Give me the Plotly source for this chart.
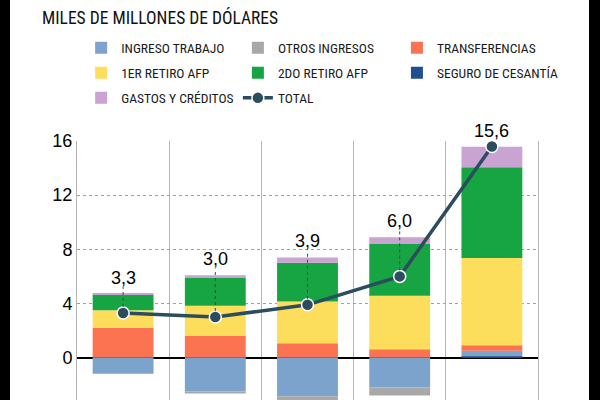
import plotly.graph_objects as go

# datos (miles de millones de dolares)
periodos = ["P1", "P2", "P3", "P4", "P5"]
seguro_cesantia = [0, 0, 0, 0, 0.1]
ingreso_trabajo = [-1.2, -2.5, -2.85, -2.2, 0.4]
otros_ingresos = [0, -0.15, -0.4, -0.6, 0]
transferencias = [2.2, 1.6, 1.07, 0.62, 0.42]
retiro1 = [1.3, 2.23, 3.08, 3.95, 6.44]
retiro2 = [1.17, 2.05, 2.85, 3.83, 6.71]
gastos_creditos = [0.05, 0.2, 0.4, 0.5, 1.5]
total = [3.3, 3.0, 3.9, 6.0, 15.6]
total_txt = ["3,3", "3,0", "3,9", "6,0", "15,6"]

fuente = "Roboto Condensed, Roboto, sans-serif"

fig = go.Figure()

# (nombre, valores, color, legend, rank)
series = [
    ("SEGURO DE CESANTÍA", seguro_cesantia, "#1f4f8f", "legend3", 2),
    ("INGRESO TRABAJO", ingreso_trabajo, "#7ba3cc", "legend", 1),
    ("OTROS INGRESOS", otros_ingresos, "#a8a8a8", "legend2", 1),
    ("TRANSFERENCIAS", transferencias, "#fb7350", "legend3", 1),
    ("1ER RETIRO AFP", retiro1, "#fddd5c", "legend", 2),
    ("2DO RETIRO AFP", retiro2, "#16a542", "legend2", 2),
    ("GASTOS Y CRÉDITOS", gastos_creditos, "#c9a3d1", "legend", 3),
]
for nombre, vals, color, leg, rank in series:
    fig.add_trace(go.Bar(x=periodos, y=vals, name=nombre, marker_color=color,
                         marker_line_width=0, width=0.66, legend=leg,
                         legendrank=rank, legendgroup=nombre))

fig.add_trace(go.Scatter(x=periodos, y=total, name="TOTAL", mode="lines+markers",
                         line=dict(color="#2c4d5d", width=3.5),
                         marker=dict(size=12, color="#2c4d5d", line=dict(color="white", width=1.5)),
                         legend="legend2", legendrank=3, legendgroup="TOTAL", cliponaxis=False))

# etiquetas y lineas punteadas
for i, p in enumerate(periodos):
    tope = sum(max(s[1][i], 0) for s in series)
    fig.add_shape(type="line", x0=p, x1=p, y0=total[i], y1=tope + 0.5, xref="x", yref="y",
                  line=dict(color="#444444", width=1, dash="dot"), layer="above")
    fig.add_annotation(x=p, y=tope, text=total_txt[i], showarrow=False, yanchor="bottom",
                       yshift=4, font=dict(family="Liberation Sans, sans-serif", size=18, color="black"))

# fondo blanco con bordes negros
fig.add_shape(type="rect", xref="paper", yref="paper", x0=-67 / 461, x1=512 / 461, y0=-0.2, y1=2,
              fillcolor="white", line_width=0, layer="below")

leg = dict(font=dict(family=fuente, size=13.5, color="#1a1a1a"), bgcolor="rgba(0,0,0,0)",
           traceorder="grouped", tracegroupgap=4.5, itemwidth=30, yanchor="top", y=1.419,
           xanchor="left")
fig.update_layout(
    width=600, height=400,
    margin=dict(l=77, r=62, t=141, b=0),
    paper_bgcolor="black", plot_bgcolor="rgba(0,0,0,0)",
    barmode="relative", bargap=0.34,
    title=dict(text="MILES DE MILLONES DE DÓLARES", x=42 / 600, xanchor="left",
               y=1 - 18 / 400, yanchor="middle", yref="container",
               font=dict(family=fuente, size=17.5, color="#111111")),
    legend=dict(leg, x=0.009),
    legend2=dict(leg, x=0.349),
    legend3=dict(leg, x=0.694),
    xaxis=dict(type="category", tickson="boundaries", showgrid=True, gridcolor="#b5b5b5",
               gridwidth=1, showticklabels=False, ticks="", zeroline=False),
    yaxis=dict(range=[-3.13, 16], dtick=4, tick0=0, showgrid=True, gridcolor="#a0a0a0",
               griddash="dot", zeroline=True, zerolinecolor="black", zerolinewidth=1.5,
               showline=True, mirror=True, linecolor="#b5b5b5", ticks="",
               tickfont=dict(family="Liberation Sans, sans-serif", size=18, color="black")),
)

fig.write_html("out.html", config={"displayModeBar": False},
               post_script="document.body.style.margin='0';")
